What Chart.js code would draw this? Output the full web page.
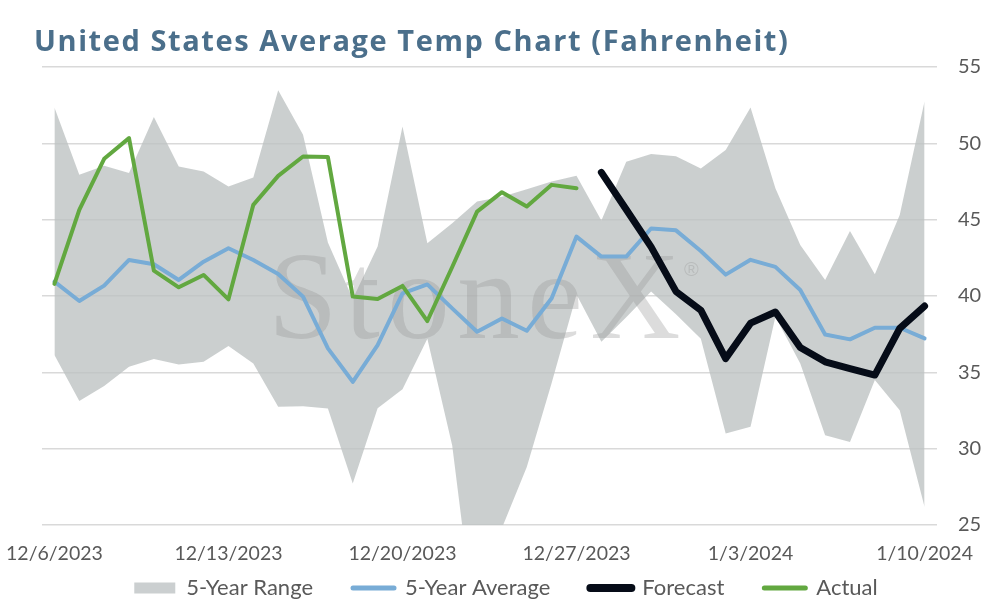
<!DOCTYPE html>
<html>
<head>
<meta charset="utf-8">
<script src="https://cdn.jsdelivr.net/npm/chart.js@4.4.0/dist/chart.umd.min.js"></script>
<style>
  html, body { margin: 0; padding: 0; background: #ffffff; }
  #wrap { width: 994px; height: 606px; position: relative; }
</style>
</head>
<body>
<div id="wrap"><canvas id="c"></canvas></div>
<script>
// ---- Data ----
const dates = [
  '12/6/2023','12/7/2023','12/8/2023','12/9/2023','12/10/2023','12/11/2023','12/12/2023',
  '12/13/2023','12/14/2023','12/15/2023','12/16/2023','12/17/2023','12/18/2023','12/19/2023',
  '12/20/2023','12/21/2023','12/22/2023','12/23/2023','12/24/2023','12/25/2023','12/26/2023',
  '12/27/2023','12/28/2023','12/29/2023','12/30/2023','12/31/2023','1/1/2024','1/2/2024',
  '1/3/2024','1/4/2024','1/5/2024','1/6/2024','1/7/2024','1/8/2024','1/9/2024','1/10/2024'
];
const tickLabels = ['12/6/2023','12/13/2023','12/20/2023','12/27/2023','1/3/2024','1/10/2024'];
const yTicks = [25, 30, 35, 40, 45, 50, 55];

const rangeHigh = [52.35, 47.94, 48.53, 48.05, 51.72, 48.48, 48.16, 47.17, 47.76, 53.47, 50.56, 43.5,
  39.8, 43.24, 51.1, 43.46, 44.77, 46.19, 46.5, 47.0, 47.5, 47.87, 44.95, 48.8,
  49.3, 49.15, 48.35, 49.57, 52.35, 47.06, 43.34, 41.05, 44.26, 41.42, 45.31, 52.75];
const rangeLow = [36.13, 33.13, 34.1, 35.36, 35.87, 35.52, 35.69, 36.72, 35.58, 32.74, 32.78, 32.63,
  27.72, 32.64, 33.9, 37.2, 30.2, 17.2, 24.8, 28.8, 34.3, 40.1, 37.0, 38.6,
  40.3, 38.8, 37.2, 30.99, 31.43, 38.64, 35.58, 30.88, 30.44, 34.49, 32.52, 26.18];
const avg5 = [40.94, 39.67, 40.68, 42.36, 42.08, 41.05, 42.25, 43.13, 42.36, 41.44, 39.96, 36.57,
  34.38, 36.78, 40.17, 40.76, 39.19, 37.66, 38.53, 37.72, 39.85, 43.89, 42.58, 42.58,
  44.42, 44.3, 42.95, 41.4, 42.37, 41.91, 40.39, 37.48, 37.16, 37.92, 37.92, 37.22];
const forecast = [null, null, null, null, null, null, null, null, null, null, null, null,
  null, null, null, null, null, null, null, null, null, null, 48.1, 45.67,
  43.22, 40.3, 39.07, 35.9, 38.22, 38.95, 36.63, 35.69, 35.25, 34.82, 37.88, 39.34];
const actual = [40.79, 45.64, 48.99, 50.34, 41.66, 40.57, 41.38, 39.78, 45.97, 47.87, 49.14, 49.1,
  39.96, 39.8, 40.66, 38.36, 41.9, 45.53, 46.8, 45.86, 47.28, 47.06, null, null,
  null, null, null, null, null, null, null, null, null, null, null, null];

const seriesNames = ['5-Year Range', '5-Year Average', 'Forecast', 'Actual'];
const titleText = 'United States Average Temp Chart (Fahrenheit)';
const watermarkText = 'StoneX';

// ---- Styles ----
const C_RANGE = 'rgba(188,193,194,0.78)';
const C_RANGE_LEG = '#cbcfd0';
const C_AVG = '#78acd6';
const C_FC = '#060c18';
const C_ACT = '#62a840';
const C_TEXT = '#595959';
const C_TITLE = '#4b6f8b';

const titlePlugin = {
  id: 'titleText',
  afterDraw(chart) {
    const ctx = chart.ctx;
    ctx.save();
    ctx.font = 'bold 29px "Open Sans"';
    ctx.fillStyle = C_TITLE;
    ctx.textBaseline = 'alphabetic';
    ctx.textAlign = 'left';
    const w0 = ctx.measureText(titleText).width;
    const sp = Math.max(0, (754 - w0) / (titleText.length - 1));
    try { ctx.letterSpacing = sp.toFixed(2) + 'px'; } catch (e) {}
    ctx.fillText(titleText, 34, 51);
    ctx.restore();
  }
};

const legendPlacePlugin = {
  id: 'legendPlace',
  afterLayout(chart) {
    const lg = chart.legend;
    if (!lg) return;
    const dy = 537 - lg.top;
    lg.top += dy; lg.bottom += dy;
    lg.left -= 12; lg.right -= 12;
  }
};

const watermarkPlugin = {
  id: 'watermark',
  afterDatasetDraw(chart, args) {
    if (args.index !== 0) return;
    const ctx = chart.ctx;
    const a = chart.chartArea;
    ctx.save();
    ctx.beginPath();
    ctx.rect(a.left, a.top, a.right - a.left, a.bottom - a.top);
    ctx.clip();
    ctx.font = '125px "Liberation Serif"';
    try { ctx.letterSpacing = '7.5px'; } catch (e) {}
    ctx.fillStyle = 'rgba(150,150,150,0.33)';
    ctx.textBaseline = 'alphabetic';
    ctx.textAlign = 'left';
    ctx.fillText(watermarkText, 268, 338);
    const w = ctx.measureText(watermarkText).width;
    ctx.font = '20px "Liberation Sans"';
    try { ctx.letterSpacing = '0px'; } catch (e) {}
    ctx.fillText('\u00AE', 268 + w - 4, 276);
    ctx.restore();
  }
};

const ctx = document.getElementById('c');
new Chart(ctx, {
  type: 'line',
  data: {
    labels: dates,
    datasets: [
      { label: seriesNames[0], data: rangeHigh, borderWidth: 0, pointRadius: 0,
        backgroundColor: C_RANGE, borderColor: 'rgba(0,0,0,0)', fill: '+1', order: 10, tension: 0 },
      { label: 'low', data: rangeLow, borderWidth: 0, pointRadius: 0,
        backgroundColor: 'rgba(0,0,0,0)', borderColor: 'rgba(0,0,0,0)', fill: false, order: 11, tension: 0 },
      { label: seriesNames[1], data: avg5, borderColor: C_AVG, borderWidth: 4, pointRadius: 0,
        fill: false, tension: 0, borderJoinStyle: 'round', borderCapStyle: 'round', order: 3 },
      { label: seriesNames[2], data: forecast, borderColor: C_FC, borderWidth: 7, pointRadius: 0,
        fill: false, tension: 0, borderJoinStyle: 'round', borderCapStyle: 'round', order: 1 },
      { label: seriesNames[3], data: actual, borderColor: C_ACT, borderWidth: 4, pointRadius: 0,
        fill: false, tension: 0, borderJoinStyle: 'round', borderCapStyle: 'round', order: 2 }
    ]
  },
  options: {
    responsive: true,
    maintainAspectRatio: false,
    animation: false,
    spanGaps: false,
    layout: { padding: { left: 42, right: 0, top: 67, bottom: -31 } },
    plugins: {
      title: { display: false },
      tooltip: { enabled: false },
      legend: {
        position: 'bottom',
        labels: {
          usePointStyle: true,
          pointStyleWidth: 41,
          boxWidth: 41,
          boxHeight: 11,
          padding: 40,
          color: C_TEXT,
          font: { family: 'Lato', size: 22 },
          filter: (item) => item.datasetIndex !== 1,
          generateLabels: (chart) => {
            const ds = chart.data.datasets;
            return ds.map((d, i) => {
              if (i === 0) {
                return { text: d.label, fillStyle: C_RANGE_LEG, strokeStyle: C_RANGE_LEG, lineWidth: 0,
                  pointStyle: 'rect', datasetIndex: i, hidden: false, fontColor: C_TEXT };
              }
              return { text: d.label, fillStyle: d.borderColor, strokeStyle: d.borderColor,
                lineWidth: i === 3 ? 8 : 5, lineCap: 'round', pointStyle: 'line', datasetIndex: i,
                hidden: false, fontColor: C_TEXT };
            });
          }
        }
      }
    },
    scales: {
      x: {
        type: 'category',
        offset: true,
        grid: { display: false },
        border: { display: false },
        afterFit: (scale) => { scale.height = 40; scale.paddingLeft = 0; scale.paddingRight = 0; },
        ticks: {
          autoSkip: false,
          maxRotation: 0,
          minRotation: 0,
          padding: 9,
          color: C_TEXT,
          font: { family: 'Lato', size: 19.5 },
          callback: function (v, i) {
            const l = this.getLabelForValue(v);
            return tickLabels.includes(l) ? l : '';
          }
        }
      },
      y: {
        position: 'right',
        min: 25,
        max: 55,
        afterBuildTicks: (scale) => { scale.ticks = yTicks.map(v => ({ value: v })); },
        afterFit: (scale) => { scale.width = 57; },
        grid: { color: '#d9d9d9', lineWidth: 1.5, drawTicks: false },
        border: { display: false },
        ticks: {
          padding: 21,
          color: C_TEXT,
          font: { family: 'Lato', size: 20 }
        }
      }
    }
  },
  plugins: [titlePlugin, watermarkPlugin, legendPlacePlugin]
});
</script>
</body>
</html>
